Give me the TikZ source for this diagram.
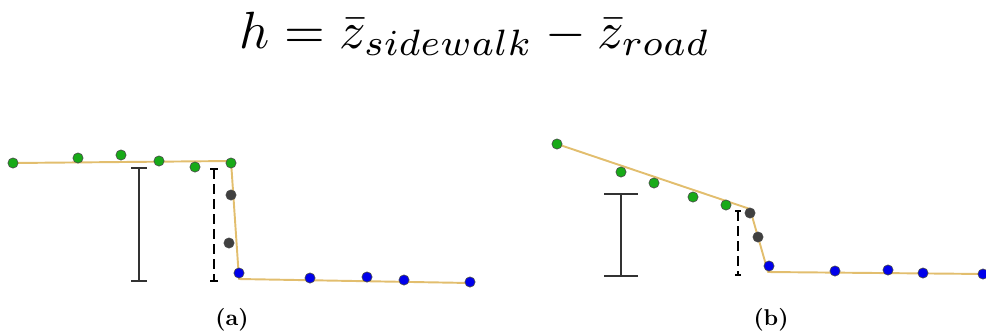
\documentclass[tikz,border=0pt]{standalone}
\usepackage{amsmath}
\usepackage{xcolor}
\usepackage{tikz}
\usetikzlibrary{arrows.meta}
\definecolor{ColCurb}{RGB}{226,190,110}
\definecolor{ColWalk}{RGB}{24,170,24}
\definecolor{ColEdge}{RGB}{64,64,64}
\definecolor{ColRoad}{RGB}{0,0,235}
\definecolor{ColBar}{RGB}{50,50,50}

\begin{document}
\begin{tikzpicture}[
  x=0.2mm, y=-0.2mm,
  line cap=butt,
  line join=round,
  profile/.style={ColCurb, line width=1.1pt},
  pt/.style={circle, draw=black!70, line width=0.35pt, inner sep=0pt, minimum size=2.05mm},
  height bar/.style={ColBar, line width=0.9pt, {Bar[width=#1]}-{Bar[width=#1]}},
  est bar/.style={black, line width=1.1pt, dash pattern=on 1.9mm off 1.1mm, {Bar[width=#1]}-{Bar[width=#1]}}
]
  \useasboundingbox (0,0) rectangle (986,332);

  % formula on top
  \node[anchor=base, scale=2.98, inner sep=0pt] (title) at (475,48)
    {$h = \bar{z}_{sidewalk} - \bar{z}_{road}$};

  % (a) straight sidewalk, steep curb
  \coordinate (a1) at (13,163);
  \coordinate (a2) at (231,161);
  \coordinate (a3) at (239,279);
  \coordinate (a4) at (470,283);
  \draw[profile] (a1) -- (a2) -- (a3) -- (a4);
  \foreach \x/\y [count=\i] in {13/163,78/158,121/155,159/161,195/167,231/163}
    \node[pt, fill=ColWalk] (aw\i) at (\x,\y) {};
  \foreach \x/\y [count=\i] in {231/195,229/243}
    \node[pt, fill=ColEdge] (ae\i) at (\x,\y) {};
  \foreach \x/\y [count=\i] in {239/273,310/278,367/277,404/280,470/282}
    \node[pt, fill=ColRoad] (ar\i) at (\x,\y) {};
  \coordinate (ahT) at (139,167);
  \coordinate (ahB) at (139,282);
  \draw[height bar=3.2mm] (ahT) -- (ahB);
  \coordinate (adT) at (214,168);
  \coordinate (adB) at (214,282);
  \draw[est bar=1.6mm] (adT) -- (adB);
  \node[font=\bfseries, scale=1.3] (labA) at (232,320) {(a)};

  % (b) sloped sidewalk
  \coordinate (b1) at (557,144);
  \coordinate (b2) at (750,209);
  \coordinate (b3) at (768,272);
  \coordinate (b4) at (986,274);
  \draw[profile] (b1) -- (b2) -- (b3) -- (b4);
  \foreach \x/\y [count=\i] in {557/144,621/172,654/183,693/197,726/205}
    \node[pt, fill=ColWalk] (bw\i) at (\x,\y) {};
  \foreach \x/\y [count=\i] in {750/213,758/237}
    \node[pt, fill=ColEdge] (be\i) at (\x,\y) {};
  \foreach \x/\y [count=\i] in {769/266,835/271,888/270,923/273,983/274}
    \node[pt, fill=ColRoad] (br\i) at (\x,\y) {};
  \coordinate (bhT) at (621,193);
  \coordinate (bhB) at (621,277);
  \draw[height bar=6.8mm] (bhT) -- (bhB);
  \coordinate (bdT) at (738,210);
  \coordinate (bdB) at (738,276);
  \draw[est bar=1.2mm] (bdT) -- (bdB);
  \node[font=\bfseries, scale=1.3] (labB) at (771,320) {(b)};
\end{tikzpicture}
\end{document}
